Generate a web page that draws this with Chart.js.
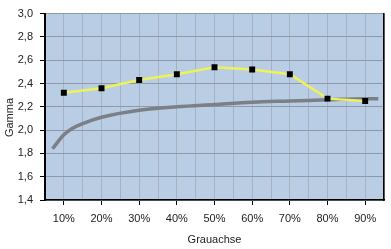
<!DOCTYPE html>
<html>
<head>
<meta charset="utf-8">
<script src="https://cdn.jsdelivr.net/npm/chart.js@4"></script>
<style>
html,body{margin:0;padding:0;background:#fff;}
#wrap{width:391px;height:249px;}
</style>
</head>
<body>
<div id="wrap"><canvas id="c" width="391" height="249"></canvas></div>
<script>
// Data
const tickPercents = [10, 20, 30, 40, 50, 60, 70, 80, 90];
const gammaValues = [2.32, 2.36, 2.43, 2.48, 2.54, 2.52, 2.48, 2.27, 2.25];
const refCurveX = [7, 10, 12, 15, 20, 30, 40, 50, 60, 70, 80, 90, 93.5];
const refCurveY = [1.84, 1.96, 2.01, 2.055, 2.11, 2.17, 2.20, 2.22, 2.24, 2.25, 2.26, 2.27, 2.27];
const yTicks = [1.4, 1.6, 1.8, 2.0, 2.2, 2.4, 2.6, 2.8, 3.0];
const xTitle = 'Grauachse';
const yTitle = 'Gamma';

const FONT = 'Liberation Sans, Arial, sans-serif';

const bgPlugin = {
  id: 'plotBg',
  beforeDraw(chart) {
    const a = chart.chartArea, ctx = chart.ctx;
    ctx.save();
    ctx.fillStyle = '#b9cde5';
    ctx.fillRect(a.left, a.top, a.right - a.left, a.bottom - a.top);
    ctx.restore();
  }
};

new Chart(document.getElementById('c'), {
  type: 'line',
  data: {
    datasets: [
      {
        data: tickPercents.map((x, i) => ({x: x, y: gammaValues[i]})),
        borderColor: '#eef25a',
        borderWidth: 2.5,
        pointStyle: 'rect',
        pointRadius: 4.2,
        pointBackgroundColor: '#000',
        pointBorderColor: '#000',
        pointBorderWidth: 0,
        tension: 0,
        order: 0
      },
      {
        data: refCurveX.map((x, i) => ({x: x, y: refCurveY[i]})),
        borderColor: '#7b7f86',
        borderWidth: 3.5,
        pointRadius: 0,
        cubicInterpolationMode: 'monotone',
        order: 1
      }
    ]
  },
  options: {
    responsive: false,
    devicePixelRatio: 1,
    animation: false,
    layout: {padding: {top: 10, right: 0, bottom: 0, left: 0}},
    plugins: {legend: {display: false}, tooltip: {enabled: false}},
    scales: {
      x: {
        type: 'linear',
        min: 5, max: 95,
        afterBuildTicks(s) { s.ticks = []; for (let v = 5; v <= 95; v += 5) s.ticks.push({value: v}); },
        afterFit(s) { s.height = 49; },
        border: {color: '#000', width: 1.5},
        grid: {
          color: '#a7b3c3',
          lineWidth: 1,
          tickLength: 5,
          tickColor: (c) => (c.tick && c.tick.value % 10 === 0 && c.tick.value !== 5) ? '#000' : 'rgba(0,0,0,0)'
        },
        ticks: {
          autoSkip: false, maxRotation: 0, padding: 7,
          color: '#222',
          font: {family: FONT, size: 11},
          callback: (v) => tickPercents.includes(v) ? v + '%' : ''
        },
        title: {display: true, text: xTitle, color: '#222', font: {family: FONT, size: 11}, padding: {top: 0, bottom: 2}}
      },
      y: {
        min: 1.4, max: 3.0,
        afterBuildTicks(s) { s.ticks = yTicks.map(v => ({value: v})); },
        afterFit(s) { s.width = 45; },
        border: {color: '#000', width: 2},
        grid: {color: '#8e9aaa', lineWidth: 1, tickLength: 5, tickColor: '#000'},
        ticks: {
          padding: 7, color: '#222',
          font: {family: FONT, size: 11},
          callback: (v) => Number(v).toFixed(1).replace('.', ',')
        },
        title: {display: true, text: yTitle + '       ', color: '#222', font: {family: FONT, size: 11}, padding: {top: 3, bottom: 0}}
      },
      y2: {
        position: 'right',
        min: 1.4, max: 3.0,
        afterFit(s) { s.width = 6; },
        border: {color: '#000', width: 1.5},
        grid: {display: false},
        ticks: {display: false}
      }
    }
  },
  plugins: [bgPlugin]
});
</script>
</body>
</html>
